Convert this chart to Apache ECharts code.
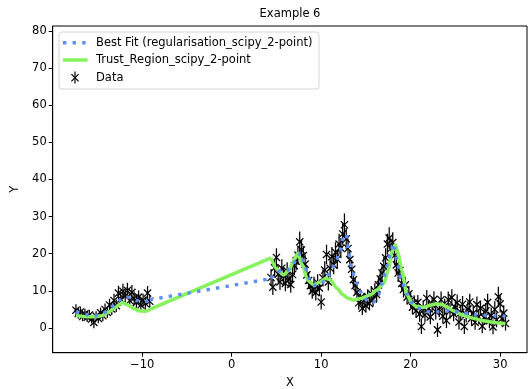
<!DOCTYPE html>
<html>
<head>
<meta charset="utf-8">
<title>Example 6</title>
<script src="https://cdn.jsdelivr.net/npm/echarts@6/dist/echarts.min.js"></script>
<style>
  html, body { margin: 0; padding: 0; background: #fff; overflow: hidden; }
  #chart { width: 528px; height: 389px; }
</style>
</head>
<body>
<div id="chart"></div>
<script>
// Measured data with vertical uncertainties
const dataX = [
  -17.4, -17.15, -16.9, -16.65, -16.4, -16.15, -15.9, -15.65, -15.4, -15.15,
  -14.9, -14.65, -14.4, -14.15, -13.9, -13.65, -13.4, -13.15, -12.9, -12.65,
  -12.4, -12.15, -11.9, -11.65, -11.4, -11.15, -10.9, -10.65, -10.4, -10.15,
  -9.9, -9.65, -9.4, -9.15,
  4.4, 4.6, 4.8, 5.0, 5.2, 5.4, 5.6, 5.8, 6.0, 6.2, 6.4, 6.6, 6.8, 7.0, 7.2, 7.4,
  7.6, 7.8, 8.0, 8.2, 8.4, 8.6, 8.8, 9.0, 9.2, 9.4, 9.6, 9.8, 10.0, 10.2, 10.4,
  10.6, 10.8, 11.0, 11.2, 11.4, 11.6, 11.8, 12.0, 12.2, 12.4, 12.6, 12.8, 13.0,
  13.2, 13.4, 13.6, 13.8, 14.0, 14.2, 14.4, 14.6, 14.8, 15.0, 15.2, 15.4, 15.6,
  15.8, 16.0, 16.2, 16.4, 16.6, 16.8, 17.0, 17.2, 17.4, 17.6, 17.8, 18.0, 18.2,
  18.4, 18.6, 18.8, 19.0, 19.2, 19.4, 19.6, 19.8, 20.0, 20.2, 20.4, 20.6, 20.8,
  21.0, 21.2, 21.4, 21.6, 21.8, 22.0, 22.2, 22.4, 22.6, 22.8, 23.0, 23.2, 23.4,
  23.6, 23.8, 24.0, 24.2, 24.4, 24.6, 24.8, 25.0, 25.2, 25.4, 25.6, 25.8, 26.0,
  26.2, 26.4, 26.6, 26.8, 27.0, 27.2, 27.4, 27.6, 27.8, 28.0, 28.2, 28.4, 28.6,
  28.8, 29.0, 29.2, 29.4, 29.6, 29.8, 30.0, 30.2, 30.4, 30.6
];
const dataY = [
  4.8, 3.9, 4.3, 3.1, 3.8, 2.9, 3.5, 2.4, 1.5, 3.2,
  2.6, 4.1, 3.3, 5.0, 4.2, 6.2, 5.1, 7.4, 6.0, 9.4,
  7.8, 9.9, 8.6, 10.1, 7.4, 9.6, 8.0, 6.9, 8.3, 6.2,
  7.5, 6.6, 9.4, 7.2,
  13.6, 11.0, 16.2, 19.0, 14.5, 12.4, 16.1, 14.0, 12.0, 15.3, 13.2, 11.7, 14.4, 16.8, 18.0, 19.6,
  23.2, 21.0, 19.5, 17.2, 14.3, 12.8, 11.4, 10.0, 11.6, 9.5, 12.2, 10.8, 7.0, 13.5, 15.6,
  19.8, 12.4, 16.1, 19.2, 17.0, 20.4, 18.5, 22.6, 21.5, 25.3, 27.8, 24.0, 21.4,
  18.4, 15.8, 13.0, 11.4, 9.6, 6.8, 8.2, 5.3, 7.5, 6.0, 8.4, 6.6, 9.2,
  7.8, 10.0, 9.0, 11.6, 13.2, 14.8, 16.6, 18.9, 22.6, 24.2, 21.4, 23.0, 19.5,
  17.0, 14.8, 15.5, 12.0, 10.4, 11.6, 8.3, 9.2, 7.4, 5.6, 6.8, 4.6, 6.9,
  3.8, 0.4, 5.4, 3.5, 8.0, 5.3, 3.0, 6.2, 7.7, 4.4, -0.5, 5.0, 7.6,
  3.2, 5.8, 2.0, 7.6, 4.6, 8.2, 3.8, 5.5, 6.8, 1.6, 4.2, 6.4, 0.4,
  3.6, 5.1, 7.0, 2.6, 4.0, 1.5, 6.3, 3.0, 5.3, 0.5, 2.8, 4.6, 6.9,
  1.9, 3.4, 0.3, 5.0, 2.2, 8.4, 6.5, 2.5, 4.0, 1.2
];
const dataErr = [
  1.6, 1.4, 1.5, 1.3, 1.4, 1.3, 1.4, 1.2, 1.6, 1.3,
  1.3, 1.4, 1.5, 1.6, 1.5, 1.7, 1.6, 1.8, 1.7, 2.0,
  1.9, 2.0, 1.9, 2.1, 1.9, 2.0, 1.8, 1.7, 1.8, 1.6,
  1.7, 1.7, 1.9, 1.8,
  2.3, 2.1, 2.4, 2.5, 2.3, 2.2, 2.4, 2.3, 2.1, 2.4, 2.3, 2.2, 2.3, 2.5, 2.5, 2.6,
  2.8, 2.7, 2.6, 2.5, 2.4, 2.3, 2.2, 2.1, 2.2, 2.1, 2.3, 2.2, 2.0, 2.3, 2.4,
  2.6, 2.3, 2.5, 2.6, 2.5, 2.7, 2.6, 2.8, 2.7, 2.9, 3.0, 2.9, 2.7,
  2.6, 2.5, 2.3, 2.2, 2.1, 1.9, 2.0, 1.8, 2.0, 1.9, 2.0, 1.9, 2.1,
  2.0, 2.1, 2.0, 2.2, 2.3, 2.4, 2.5, 2.6, 2.8, 2.9, 2.7, 2.8, 2.6,
  2.5, 2.4, 2.4, 2.3, 2.2, 2.2, 2.0, 2.1, 2.0, 1.9, 2.0, 1.9, 2.0,
  2.1, 2.0, 2.1, 2.0, 2.2, 2.1, 2.0, 2.1, 2.2, 2.1, 1.9, 2.1, 2.2,
  2.0, 2.1, 2.0, 2.2, 2.1, 2.2, 2.0, 2.1, 2.2, 2.0, 2.1, 2.2, 2.0,
  2.1, 2.1, 2.2, 2.0, 2.1, 2.0, 2.2, 2.0, 2.1, 1.9, 2.0, 2.1, 2.3,
  2.0, 2.1, 2.0, 2.2, 2.0, 2.7, 2.3, 2.0, 2.1, 1.9
];

// Best fit (regularisation, scipy 2-point) evaluated along x
const fitX = [
  -17.4, -16.8, -16.0, -15.3, -14.5, -13.8, -13.2, -12.6, -12.0, -11.3, -10.6, -10.0, -9.5, -9.15,
  4.4, 4.9, 5.5, 6.2, 6.8, 7.3, 7.7, 8.1, 8.6, 9.1, 9.7, 10.4, 11.0, 11.6, 12.1, 12.5,
  12.8, 13.1, 13.5, 14.0, 14.6, 15.2, 15.8, 16.4, 16.9, 17.4, 17.8, 18.1, 18.5, 19.0,
  19.6, 20.2, 20.8, 21.5, 22.3, 23.2, 24.0, 24.8, 25.8, 27.0, 28.2, 29.4, 30.6
];
const fitY = [
  4.4, 4.0, 3.5, 3.3, 3.7, 4.8, 6.0, 7.4, 8.4, 8.2, 7.4, 7.0, 7.2, 7.6,
  13.3, 14.8, 15.4, 15.5, 16.8, 19.0, 20.2, 17.5, 13.4, 11.5, 11.4, 12.6, 14.6, 17.6, 20.6, 24.5,
  25.3, 20.0, 15.0, 12.0, 9.0, 7.2, 6.8, 9.0, 12.6, 17.0, 21.0, 22.8, 17.5, 12.5,
  9.2, 6.8, 5.4, 4.6, 4.2, 4.4, 4.6, 4.6, 4.1, 3.6, 3.4, 3.3, 3.2
];

// Trust region (scipy 2-point) evaluated along x
const trX = [
  -17.4, -16.5, -15.4, -14.5, -13.7, -13.0, -12.2, -11.6, -11.0, -10.3, -9.6, -9.15,
  4.4, 5.0, 5.8, 6.4, 7.0, 7.4, 7.9, 8.5, 9.2, 9.8, 10.5, 11.0, 11.8, 12.4, 13.0,
  13.6, 14.5, 15.5, 16.2, 17.0, 17.5, 17.9, 18.3, 18.6, 19.0, 19.6, 20.2, 20.7,
  21.5, 22.3, 22.9, 23.5, 24.0, 24.8, 25.8, 27.0, 28.0, 29.0, 30.0, 30.6
];
const trY = [
  3.4, 3.1, 3.0, 3.3, 4.4, 5.6, 6.8, 6.2, 5.3, 4.6, 4.5, 5.0,
  18.9, 16.0, 14.3, 15.5, 18.5, 20.1, 17.0, 12.8, 11.6, 12.3, 13.3, 13.0, 10.6, 9.0, 8.0,
  7.5, 8.0, 8.9, 10.2, 12.0, 15.6, 20.4, 22.4, 20.1, 15.5, 8.9, 6.5, 5.7,
  5.6, 6.2, 6.5, 6.3, 5.7, 4.6, 3.5, 2.6, 2.0, 1.6, 1.3, 1.2
];

// Axis tick positions
const xTicks = [-10, 0, 10, 20, 30];
const yTicks = [0, 10, 20, 30, 40, 50, 60, 70, 80];

const FONT = 'DejaVu Sans';
const BLUE = '#5e8ff7';
const GREEN = '#85f25e';

const zip = (a, b) => a.map((v, i) => [v, b[i]]);
const minus = v => (v < 0 ? '\u2212' + Math.abs(v) : String(v));

// The data has no samples between the two x clusters, so each model curve is
// drawn as: smooth left part, straight bridge across the empty range, smooth right part.
function curveSeries(name, xs, ys, lineStyle, z) {
  const pts = zip(xs, ys);
  const gap = xs.findIndex((v, i) => i > 0 && v - xs[i - 1] > 5);
  const base = { type: 'line', showSymbol: false, smoothMonotone: 'x', lineStyle: lineStyle, z: z, name: name };
  return [
    Object.assign({}, base, { data: pts.slice(0, gap), smooth: 0.25 }),
    Object.assign({}, base, { data: pts.slice(gap - 1, gap + 1), smooth: false }),
    Object.assign({}, base, { data: pts.slice(gap), smooth: 0.25 })
  ];
}

const chart = echarts.init(document.getElementById('chart'), null, { renderer: 'canvas', width: 528, height: 389 });

const axisCommon = {
  type: 'value',
  splitLine: { show: false },
  axisLine: { show: true, onZero: false, lineStyle: { color: '#000', width: 1 } },
  axisTick: { show: true, inside: false, length: 4, lineStyle: { color: '#000', width: 1 } },
  axisLabel: { color: '#000', fontFamily: FONT, fontSize: 11.5, formatter: minus, showMinLabel: true, showMaxLabel: true }
};

// error bars + 'x' markers for the data
function renderErrorPoint(params, api) {
  const x = api.value(0), y = api.value(1), e = api.value(2);
  const c = api.coord([x, y]);
  const lo = api.coord([x, y - e]);
  const hi = api.coord([x, y + e]);
  const s = 3.6;
  const style = { stroke: '#000', lineWidth: 1.25 };
  return {
    type: 'group',
    children: [
      { type: 'line', shape: { x1: c[0], y1: lo[1], x2: c[0], y2: hi[1] }, style: style },
      { type: 'line', shape: { x1: c[0] - s, y1: c[1] - s, x2: c[0] + s, y2: c[1] + s }, style: style },
      { type: 'line', shape: { x1: c[0] - s, y1: c[1] + s, x2: c[0] + s, y2: c[1] - s }, style: style }
    ]
  };
}

chart.setOption({
  animation: false,
  backgroundColor: '#fff',
  grid: {
    left: 52.7, top: 26, width: 474.3, height: 326.7,
    containLabel: false, outerBoundsMode: 'none',
    show: true, borderColor: '#000', borderWidth: 1
  },
  xAxis: Object.assign({}, axisCommon, {
    min: -20, max: 33,
    axisTick: Object.assign({}, axisCommon.axisTick, { customValues: xTicks }),
    axisLabel: Object.assign({}, axisCommon.axisLabel, { customValues: xTicks, margin: 6 }),
    name: 'X', nameLocation: 'middle', nameGap: 24,
    nameTextStyle: { color: '#000', fontFamily: FONT, fontSize: 11.5 }
  }),
  yAxis: Object.assign({}, axisCommon, {
    min: -6.65, max: 81.3,
    axisTick: Object.assign({}, axisCommon.axisTick, { customValues: yTicks }),
    axisLabel: Object.assign({}, axisCommon.axisLabel, { customValues: yTicks, margin: 6 }),
    name: 'Y', nameLocation: 'middle', nameGap: 28, nameRotate: 90,
    nameTextStyle: { color: '#000', fontFamily: FONT, fontSize: 11.5 }
  }),
  series: [
    {
      name: 'Data', type: 'custom', renderItem: renderErrorPoint,
      data: dataX.map((x, i) => [x, dataY[i], dataErr[i]]),
      encode: { x: 0, y: 1 }, z: 2, clip: true
    }
  ].concat(
    curveSeries('Trust_Region_scipy_2-point', trX, trY, { color: GREEN, width: 3.5 }, 3),
    curveSeries('Best Fit (regularisation_scipy_2-point)', fitX, fitY,
      { color: BLUE, width: 3.4, type: [3.4, 6.2], cap: 'butt' }, 4)
  ),
  graphic: [
    {
      type: 'text', x: 290, y: 14, z: 100,
      style: { text: 'Example 6', font: '11.5px "DejaVu Sans"', fill: '#000', textAlign: 'center', textVerticalAlign: 'middle' }
    },
    {
      type: 'group', x: 59, y: 32, z: 100,
      children: [
        { type: 'rect', shape: { x: 0, y: 0, width: 260, height: 57, r: 3 },
          style: { fill: 'rgba(255,255,255,0.8)', stroke: '#d6d6d6', lineWidth: 1 } },
        { type: 'line', shape: { x1: 4, y1: 10.7, x2: 28.5, y2: 10.7 },
          style: { stroke: BLUE, lineWidth: 3.4, lineDash: [3.4, 6.2] } },
        { type: 'text', x: 37, y: 10.7,
          style: { text: 'Best Fit (regularisation_scipy_2-point)', font: '11.5px "DejaVu Sans"', fill: '#000', textVerticalAlign: 'middle' } },
        { type: 'line', shape: { x1: 4, y1: 28, x2: 28.5, y2: 28 },
          style: { stroke: GREEN, lineWidth: 3.5 } },
        { type: 'text', x: 37, y: 28,
          style: { text: 'Trust_Region_scipy_2-point', font: '11.5px "DejaVu Sans"', fill: '#000', textVerticalAlign: 'middle' } },
        { type: 'line', shape: { x1: 16, y1: 39.5, x2: 16, y2: 51.5 }, style: { stroke: '#000', lineWidth: 1.2 } },
        { type: 'line', shape: { x1: 12.4, y1: 42.1, x2: 19.6, y2: 49.3 }, style: { stroke: '#000', lineWidth: 1.2 } },
        { type: 'line', shape: { x1: 12.4, y1: 49.3, x2: 19.6, y2: 42.1 }, style: { stroke: '#000', lineWidth: 1.2 } },
        { type: 'text', x: 37, y: 45.7,
          style: { text: 'Data', font: '11.5px "DejaVu Sans"', fill: '#000', textVerticalAlign: 'middle' } }
      ]
    }
  ]
});
</script>
</body>
</html>
